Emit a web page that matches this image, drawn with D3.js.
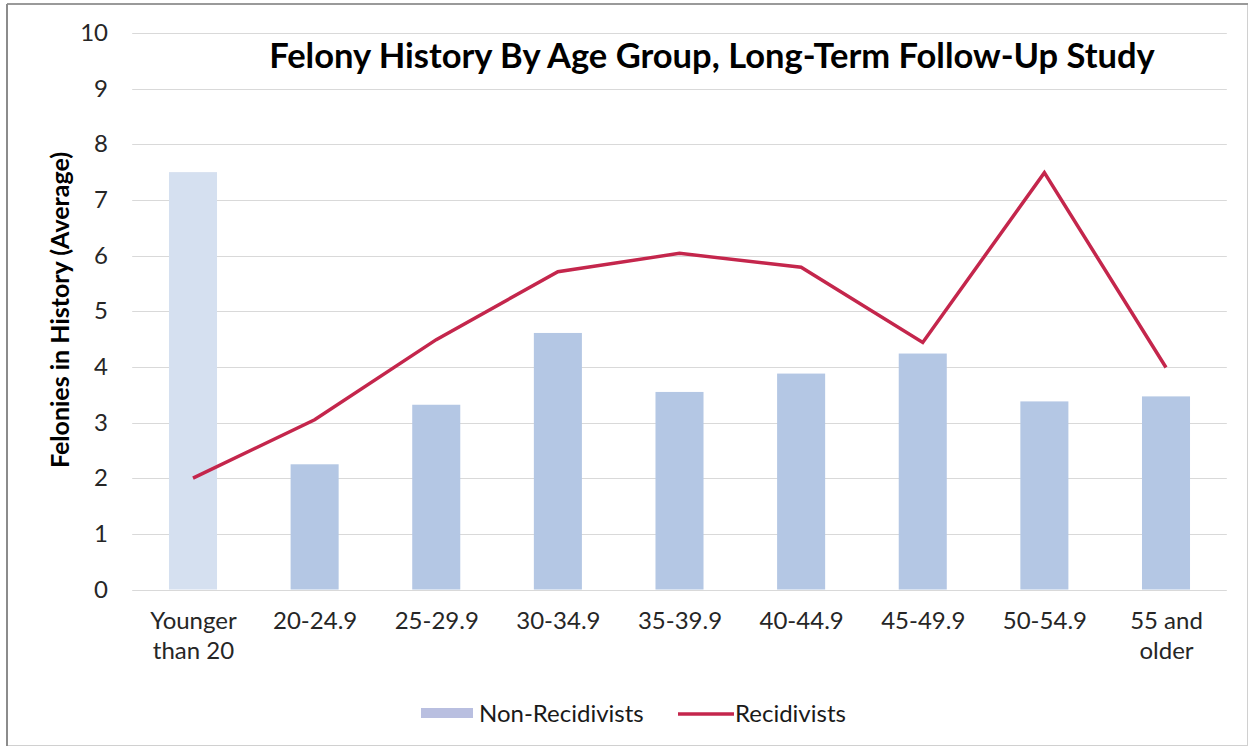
<!DOCTYPE html>
<html>
<head>
<meta charset="utf-8">
<script src="https://cdn.jsdelivr.net/npm/d3@7"></script>
<style>
  html, body { margin: 0; padding: 0; background: #ffffff; }
  svg { display: block; font-family: Lato, "Open Sans", sans-serif; }
</style>
</head>
<body>
<svg id="chart" width="1252" height="750"></svg>
<script>
// Age groups along the x axis (multi-line labels split on "\n")
const categories = ["Younger\nthan 20", "20-24.9", "25-29.9", "30-34.9", "35-39.9",
                    "40-44.9", "45-49.9", "50-54.9", "55 and\nolder"];
// Average number of felonies in history
const nonRecidivists = [7.5, 2.25, 3.32, 4.61, 3.55, 3.88, 4.24, 3.38, 3.47];
const recidivists    = [2.0, 3.05, 4.49, 5.71, 6.04, 5.79, 4.44, 7.49, 3.99];
const yTicks = [0, 1, 2, 3, 4, 5, 6, 7, 8, 9, 10];
const seriesNames = ["Non-Recidivists", "Recidivists"];

const svg = d3.select("#chart");

const barColor = "#b4c7e4";
const firstBarColor = "#d5e0f0";
const lineColor = "#c4264c";
const tickFont = 24;

// Outer frame
svg.append("rect")
  .attr("x", 7.5).attr("y", 4.5).attr("width", 1240).attr("height", 741)
  .attr("fill", "#ffffff").attr("stroke", "#d0d0d0");
svg.append("line").attr("x1", 7).attr("x2", 1248).attr("y1", 4).attr("y2", 4)
  .attr("stroke", "#9a9a9a").attr("stroke-width", 2);
svg.append("line").attr("x1", 7).attr("x2", 7).attr("y1", 4).attr("y2", 746)
  .attr("stroke", "#8c8c8c").attr("stroke-width", 2);

// Scales
const x = d3.scalePoint().domain(categories).range([193, 1166]);
const step = x.step();
const barWidth = step * 0.395;
const plotLeft = x(categories[0]) - step / 2;
const plotRight = x(categories[categories.length - 1]) + step / 2;
const y = d3.scaleLinear().domain([0, 10]).range([589.5, 33]);

// Horizontal gridlines
svg.append("g")
  .selectAll("line")
  .data(yTicks)
  .join("line")
  .attr("x1", plotLeft).attr("x2", plotRight)
  .attr("y1", d => Math.round(y(d)) + 0.5).attr("y2", d => Math.round(y(d)) + 0.5)
  .attr("stroke", "#d9d9d9").attr("stroke-width", 1);

// Y axis tick labels
const yAxis = d3.axisLeft(y).tickValues(yTicks).tickSize(0).tickPadding(0);
const gy = svg.append("g").attr("transform", "translate(108,0)").call(yAxis);
gy.select(".domain").remove();
gy.selectAll("text")
  .attr("font-family", "Lato, sans-serif")
  .attr("font-size", tickFont)
  .attr("fill", "#262626");

// Y axis title
svg.append("text")
  .attr("transform", "translate(69,310) rotate(-90)")
  .attr("text-anchor", "middle")
  .attr("font-size", 25)
  .attr("font-weight", "bold")
  .attr("fill", "#000")
  .text("Felonies in History (Average)");

// Bars
svg.append("g")
  .selectAll("rect")
  .data(categories.map((c, i) => ({ c, v: nonRecidivists[i], i })))
  .join("rect")
  .attr("x", d => x(d.c) - barWidth / 2)
  .attr("width", barWidth)
  .attr("y", d => y(d.v))
  .attr("height", d => y(0) - y(d.v))
  .attr("fill", d => d.i === 0 ? firstBarColor : barColor);

// Recidivists line
const line = d3.line()
  .x((d, i) => x(categories[i]))
  .y(d => y(d));
svg.append("path")
  .datum(recidivists)
  .attr("d", line)
  .attr("fill", "none")
  .attr("stroke", lineColor)
  .attr("stroke-width", 3.5)
  .attr("stroke-linejoin", "miter");

// X axis category labels
const xAxis = d3.axisBottom(x).tickSize(0).tickPadding(0).tickFormat("");
const gx = svg.append("g").attr("transform", `translate(0,${y(0)})`).call(xAxis);
gx.select(".domain").remove();
gx.selectAll(".tick").each(function (d) {
  const lines = d.split("\n");
  const t = d3.select(this).append("text")
    .attr("text-anchor", "middle")
    .attr("font-family", "Lato, sans-serif")
    .attr("font-size", tickFont)
    .attr("fill", "#262626");
  lines.forEach((s, k) => {
    t.append("tspan").attr("x", 0).attr("y", 39 + k * 30).text(s);
  });
});

// Title
svg.append("text")
  .attr("x", 712).attr("y", 68)
  .attr("text-anchor", "middle")
  .attr("font-size", 34.5)
  .attr("font-weight", "bold")
  .attr("fill", "#000")
  .text("Felony History By Age Group, Long-Term Follow-Up Study");

// Legend
const legend = svg.append("g");
legend.append("rect")
  .attr("x", 421).attr("y", 708).attr("width", 52).attr("height", 10)
  .attr("fill", "#b9bfe0");
legend.append("text")
  .attr("x", 479).attr("y", 722)
  .attr("font-size", tickFont).attr("fill", "#1a1a1a")
  .text(seriesNames[0]);
legend.append("line")
  .attr("x1", 678).attr("x2", 734).attr("y1", 714).attr("y2", 714)
  .attr("stroke", lineColor).attr("stroke-width", 3.5);
legend.append("text")
  .attr("x", 735).attr("y", 722)
  .attr("font-size", tickFont).attr("fill", "#1a1a1a")
  .text(seriesNames[1]);
</script>
</body>
</html>
